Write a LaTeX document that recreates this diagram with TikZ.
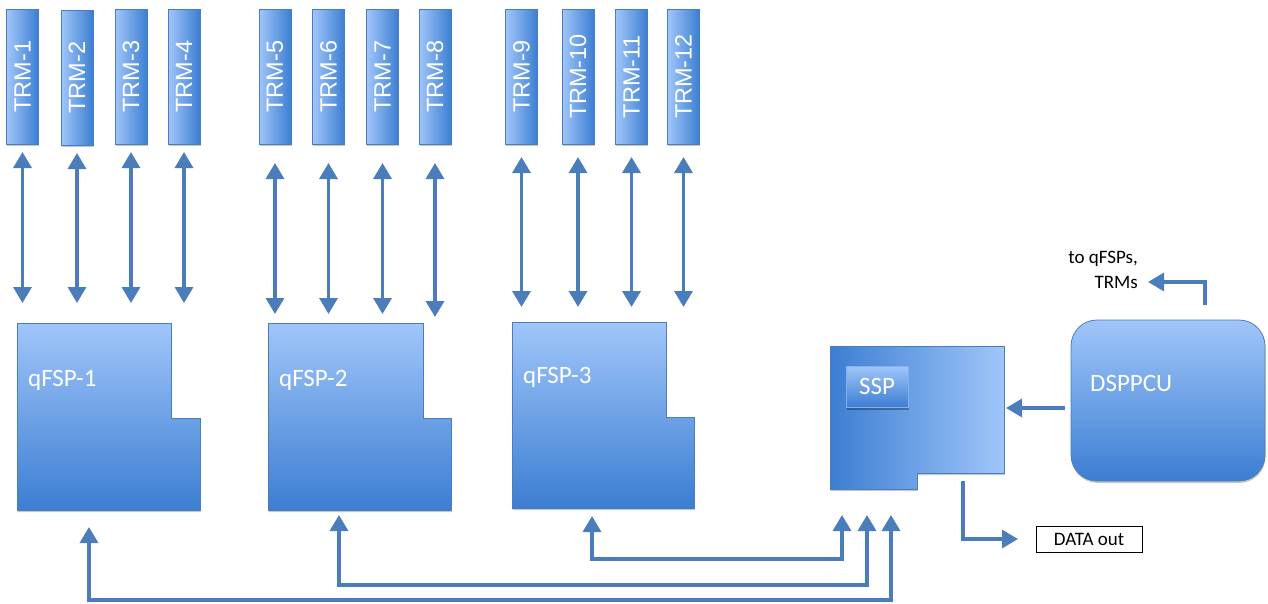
\documentclass[tikz,border=0pt]{standalone}
\usepackage{fontspec}
\newfontfamily\calf{Carlito}
\newfontfamily\arif{Liberation Sans}
\usetikzlibrary{arrows.meta,calc,shadows}
\definecolor{lb}{HTML}{A0C6FA}
\definecolor{db}{HTML}{3C7ED2}
\definecolor{ed}{HTML}{4A7EBB}
\definecolor{ac}{HTML}{4A7DBA}
\begin{document}
\begin{tikzpicture}[x=1pt,y=-1pt,
  bigtri/.tip={Triangle[width=18pt,length=16pt]},
  arr/.style={draw=ac, line width=3.4pt, -bigtri},
  dbl/.style={draw=ac, line width=3.4pt, bigtri-bigtri},
  box/.style={inner sep=0pt, outer sep=0pt, rectangle},
  shd/.style={drop shadow={shadow xshift=0.5pt, shadow yshift=-2pt, opacity=0.22, fill=black}},
  trm/.style={box, draw=ed, line width=0.8pt, left color=lb, right color=db,
    minimum width=32pt, minimum height=135pt, text=white,
    font=\arif\fontsize{23.5}{26}\selectfont, shd},
  area/.style={box, draw=none},
  shapefill/.style={draw=ed, line width=0.8pt, top color=lb, bottom color=db, shd},
  lbl/.style={inner sep=0pt, anchor=west, text=white, font=\calf\fontsize{25}{28}\selectfont},
  note/.style={inner sep=0pt, text=black, font=\calf\fontsize{19}{25}\selectfont}
]
\useasboundingbox (0,0) rectangle (1268,603);

% ---------- TRM boxes ----------
\node[trm] (t1)  at (22.5,76.5)  {\rotatebox{90}{TRM-1}};
\node[trm] (t2)  at (77,77.5)    {\rotatebox{90}{TRM-2}};
\node[trm] (t3)  at (131,76.5)   {\rotatebox{90}{TRM-3}};
\node[trm] (t4)  at (184,76.5)   {\rotatebox{90}{TRM-4}};
\node[trm] (t5)  at (275,76.5)   {\rotatebox{90}{TRM-5}};
\node[trm] (t6)  at (328.5,76.5) {\rotatebox{90}{TRM-6}};
\node[trm] (t7)  at (382.5,76.5) {\rotatebox{90}{TRM-7}};
\node[trm] (t8)  at (435,76.5)   {\rotatebox{90}{TRM-8}};
\node[trm] (t9)  at (521.5,76.5) {\rotatebox{90}{TRM-9}};
\node[trm] (t10) at (578,76.5)   {\rotatebox{90}{TRM-10}};
\node[trm] (t11) at (631.5,76.5) {\rotatebox{90}{TRM-11}};
\node[trm] (t12) at (683.5,76.5) {\rotatebox{90}{TRM-12}};

% ---------- qFSP shapes ----------
\shade[shapefill] (17,323) -- (171,323) -- (171,418) -- (200,418) -- (200,510) -- (17,510) -- cycle;
\shade[shapefill] (268,323) -- (423,323) -- (423,418) -- (451,418) -- (451,510) -- (268,510) -- cycle;
\shade[shapefill] (512,322) -- (666,322) -- (666,417) -- (694,417) -- (694,508) -- (512,508) -- cycle;
\node[area, minimum width=183pt, minimum height=187pt] (q1) at (108.5,416.5) {};
\node[area, minimum width=183pt, minimum height=187pt] (q2) at (359.5,416.5) {};
\node[area, minimum width=182pt, minimum height=186pt] (q3) at (603,415) {};
\node[lbl] (q1l) at (28,380) {qFSP-1};
\node[lbl] (q2l) at (279,380) {qFSP-2};
\node[lbl] (q3l) at (523,377) {qFSP-3};

% ---------- SSP ----------
\shade[draw=ed, line width=0.8pt, left color=db, right color=lb, shd]
  (830,346) -- (1004,346) -- (1004,473) -- (917,473) -- (917,489) -- (830,489) -- cycle;
\node[area, minimum width=174pt, minimum height=143pt] (ssp) at (917,417.5) {};
\node[box, minimum width=62pt, minimum height=41pt, top color=lb, bottom color=db,
  draw=lb!70!db, line width=0.5pt, text=white, font=\calf\fontsize{25}{28}\selectfont,
  drop shadow={shadow xshift=1pt, shadow yshift=-2.5pt, opacity=0.3, fill=black}]
  (sspi) at (877,386.5) {SSP};

% ---------- DSPPCU ----------
\node[box, minimum width=194pt, minimum height=161pt, rounded corners=26pt,
  draw=ed, line width=0.8pt, top color=lb, bottom color=db, shd] (dsp) at (1168,400.5) {};
\node[lbl] (dspl) at (1090,383) {DSPPCU};

% ---------- DATA out ----------
\node[box, draw=black, line width=0.9pt, fill=white, minimum width=106pt, minimum height=26pt,
  note, drop shadow={shadow xshift=0.5pt, shadow yshift=-1pt, opacity=0.2, fill=black}]
  (dout) at (1089,539) {DATA out};

% ---------- to qFSPs, TRMs ----------
\node[note, align=right, anchor=east] (toq) at (1138,270) {to qFSPs,\\TRMs};

% ---------- TRM <-> qFSP arrows ----------
\foreach \t in {t1,t2,t3,t4}
  \draw[dbl, shorten <=8pt, shorten >=20pt] (\t.south) -- (\t.south |- q1.north);
\foreach \t in {t5,t6,t7}
  \draw[dbl, shorten <=19pt, shorten >=9pt] (\t.south) -- (\t.south |- q2.north);
\draw[dbl, shorten <=19pt, shorten >=6pt] (t8.south) -- (t8.south |- q2.north);
\foreach \t in {t9,t10,t11,t12}
  \draw[dbl, shorten <=13pt, shorten >=15pt] (\t.south) -- (\t.south |- q3.north);

% ---------- SSP <-> qFSP connectors ----------
\draw[dbl] ([shift={(80,8)}]q3.south west) -- ([shift={(80,51)}]q3.south west)
  -| ([shift={(12,26)}]ssp.south west);
\draw[dbl] ([shift={(71,5)}]q2.south west) -- ([shift={(71,75)}]q2.south west)
  -| ([shift={(37,26)}]ssp.south west);
\draw[dbl] ([shift={(72,17)}]q1.south west) -- ([shift={(72,90)}]q1.south west)
  -| ([shift={(61,26)}]ssp.south west);

% ---------- DSPPCU -> SSP ----------
\coordinate (dspa) at ([shift={(-6,7.5)}]dsp.west);
\draw[arr, shorten >=2pt] (dspa) -- (dspa -| ssp.east);

% ---------- SSP -> DATA out ----------
\draw[arr] ([shift={(-41,-8)}]ssp.south east) |- ([shift={(-18,0)}]dout.west);

% ---------- DSPPCU -> to qFSPs, TRMs ----------
\draw[arr] ([shift={(37,-15)}]dsp.north) |- ([shift={(10,12)}]toq.east);
\end{tikzpicture}
\end{document}
